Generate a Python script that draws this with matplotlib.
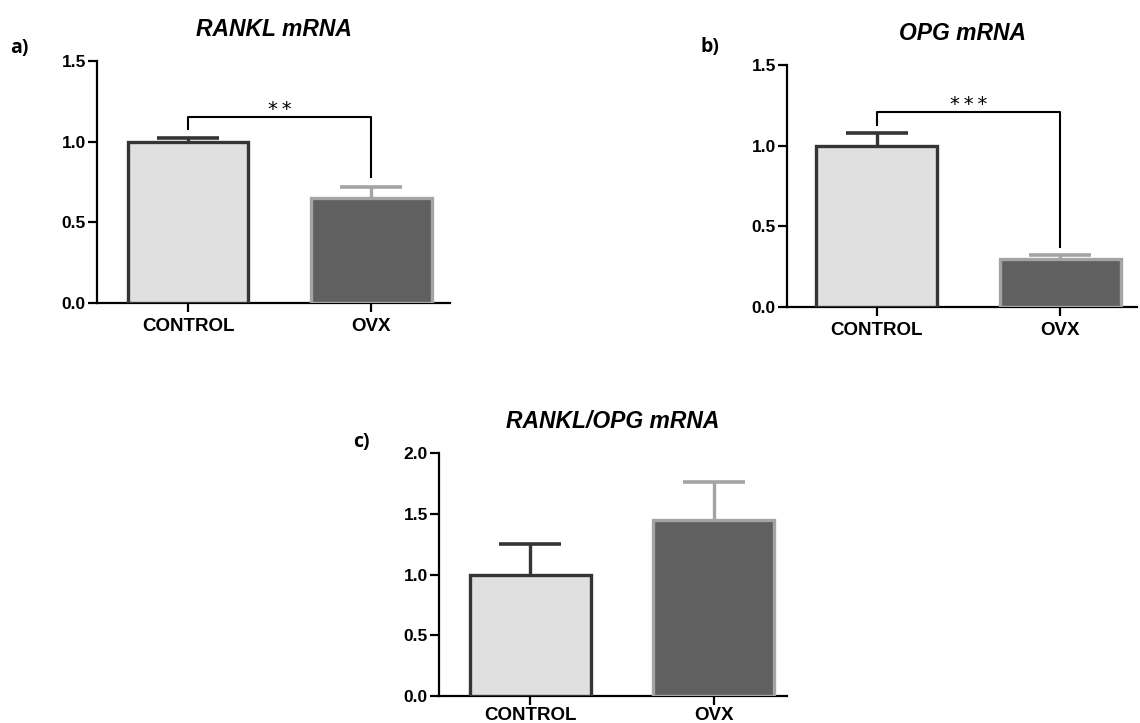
import matplotlib
matplotlib.use("Agg")
import matplotlib.pyplot as plt

categories = ["CONTROL", "OVX"]

rankl_means = [1.00, 0.65]
rankl_err = [0.02, 0.07]

opg_means = [1.00, 0.30]
opg_err = [0.08, 0.02]

ratio_means = [1.00, 1.45]
ratio_err = [0.25, 0.31]

titles = ["RANKL mRNA", "OPG mRNA", "RANKL/OPG mRNA"]
panel_labels = ["a)", "b)", "c)"]
yticks_ab = [0.0, 0.5, 1.0, 1.5]
yticks_c = [0.0, 0.5, 1.0, 1.5, 2.0]

# significance brackets
sig_a = dict(left=1.08, right=0.78, top=1.155, label="\u2009".join("**"))
sig_b = dict(left=1.13, right=0.37, top=1.21, label="\u2009".join("***"))

plt.rcParams['font.family'] = ['Liberation Sans', 'DejaVu Sans']

fig = plt.figure(figsize=(11.4, 7.23), dpi=100)

ctrl_face = "#e0e0e0"
ctrl_edge = "#353535"
ovx_face = "#606060"
ovx_edge = "#a4a4a4"

def draw_panel(rect, means, errs, ymax, yticks, title, plabel, xlim, label_y,
               xpad, sig=None):
    ax = fig.add_axes(rect)
    x = [0, 1]
    faces = [ctrl_face, ovx_face]
    edges = [ctrl_edge, ovx_edge]
    for i in range(2):
        _, caps, _ = ax.errorbar(x[i], means[i], yerr=[[0], [errs[i]]], fmt='none',
                                 ecolor=edges[i], elinewidth=2.4, capsize=22,
                                 capthick=2.6, zorder=2)
        if len(caps) == 2:
            caps[0].set_visible(False)
        ax.bar(x[i], means[i], width=0.66, color=faces[i], edgecolor=edges[i],
               linewidth=2.4, zorder=3)
    ax.set_xlim(*xlim)
    ax.set_ylim(0, ymax)
    ax.set_yticks(yticks)
    ax.set_yticklabels([f"{t:.1f}" for t in yticks], fontsize=12.5, fontweight='bold')
    ax.set_xticks(x)
    ax.set_xticklabels(categories, fontsize=13.5, fontweight='bold')
    for s in ['top', 'right']:
        ax.spines[s].set_visible(False)
    for s in ['left', 'bottom']:
        ax.spines[s].set_linewidth(1.6)
        ax.spines[s].set_color('black')
    ax.tick_params(axis='both', direction='out', length=6.5, width=1.6)
    ax.tick_params(axis='y', pad=1.5)
    ax.tick_params(axis='x', pad=xpad)
    ax.set_title(title, fontsize=16.5, fontweight='bold', style='italic', pad=18)
    ax.text(-0.247, label_y, plabel, transform=ax.transAxes, fontsize=14,
            fontweight='bold', family=['Open Sans', 'DejaVu Sans'], ha='left', va='center')
    if sig is not None:
        ax.plot([0, 0, 1, 1], [sig['left'], sig['top'], sig['top'], sig['right']],
                color='black', lw=1.5, clip_on=False, zorder=4)
        ax.text(0.5, sig['top'] - 0.015, sig['label'], ha='center', va='bottom',
                fontsize=14, family=['DejaVu Sans'])
    return ax

draw_panel([0.0851, 0.5809, 0.3096, 0.3347], rankl_means, rankl_err, 1.5,
           yticks_ab, titles[0], panel_labels[0], (-0.497, 1.43), 1.054, 4.5, sig_a)
draw_panel([0.6904, 0.5754, 0.3070, 0.3347], opg_means, opg_err, 1.5,
           yticks_ab, titles[1], panel_labels[1], (-0.49, 1.42), 1.074, 4.5, sig_b)
draw_panel([0.3851, 0.0373, 0.3053, 0.3361], ratio_means, ratio_err, 2.0,
           yticks_c, titles[2], panel_labels[2], (-0.497, 1.40), 1.045, 1.5, None)

fig.savefig("out.png", dpi=100)
